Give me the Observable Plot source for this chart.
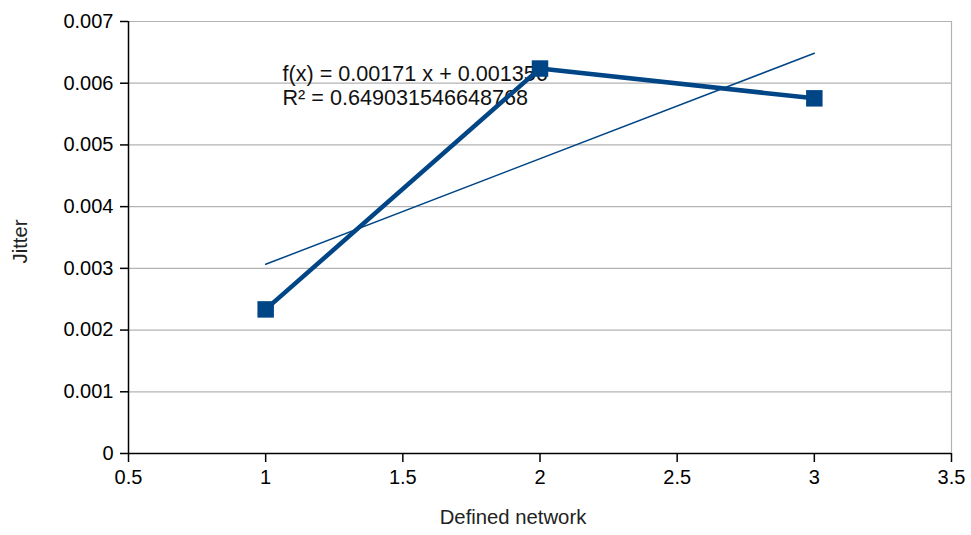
<!DOCTYPE html>
<html>
<head>
<meta charset="utf-8">
<script src="https://cdn.jsdelivr.net/npm/d3@7"></script>
<script src="https://cdn.jsdelivr.net/npm/@observablehq/plot@0.6"></script>
<style>
  html, body { margin: 0; padding: 0; background: #fff; }
</style>
</head>
<body>
<div id="chart"></div>
<script>
// Data
const networks = [1, 2, 3];
const jitter = [0.002335, 0.006238, 0.005755];
const xTicks = [0.5, 1, 1.5, 2, 2.5, 3, 3.5];
const yTicks = [0, 0.001, 0.002, 0.003, 0.004, 0.005, 0.006, 0.007];
const equationLines = ["f(x) = 0.00171 x + 0.001356", "R² = 0.649031546648768"];
const xTitle = "Defined network";
const yTitle = "Jitter";

const data = networks.map((n, i) => ({network: n, jitter: jitter[i]}));
const blue = "#004586";

const chart = Plot.plot({
  width: 971,
  height: 535,
  marginLeft: 128,
  marginRight: 20,
  marginTop: 21,
  marginBottom: 82,
  style: {fontFamily: "'Liberation Sans', Arial, sans-serif", fontSize: "20px", background: "#fff", color: "#000"},
  x: {domain: [0.5, 3.5]},
  y: {domain: [0, 0.007]},
  marks: [
    Plot.gridY(yTicks, {stroke: "#b3b3b3", strokeOpacity: 1, strokeWidth: 1.2}),
    Plot.ruleX([3.5], {stroke: "#b3b3b3", strokeWidth: 1.2}),
    Plot.axisY(yTicks, {tickSize: 8, tickPadding: 7, tickFormat: d => d === 0 ? "0" : d.toFixed(3), label: null, strokeWidth: 1.5}),
    Plot.axisX(xTicks, {tickSize: 9, tickPadding: 7, tickFormat: d => String(d), label: null, strokeWidth: 1.5}),
    Plot.ruleX([0.5], {stroke: "#000", strokeWidth: 1.5}),
    Plot.ruleY([0], {stroke: "#000", strokeWidth: 1.5}),
    Plot.text([equationLines.join("\n")], {frameAnchor: "top-left", textAnchor: "start", lineAnchor: "top", dx: 154, dy: 43, fontSize: 21.6, lineHeight: 1.1, fill: "#111"}),
    Plot.linearRegressionY(data, {x: "network", y: "jitter", stroke: blue, strokeWidth: 1.5, ci: 0}),
    Plot.line(data, {x: "network", y: "jitter", stroke: blue, strokeWidth: 4.5}),
    Plot.dot(data, {x: "network", y: "jitter", symbol: "square", r: 9.3, fill: blue, stroke: "none"}),
    Plot.text([xTitle], {frameAnchor: "bottom", dx: -27, dy: 70, fill: "#222", fontSize: 20.3}),
    Plot.text([yTitle], {frameAnchor: "left", rotate: -90, dx: -108, dy: 26, fill: "#222", fontSize: 20.3})
  ]
});
document.getElementById("chart").appendChild(chart);
</script>
</body>
</html>
